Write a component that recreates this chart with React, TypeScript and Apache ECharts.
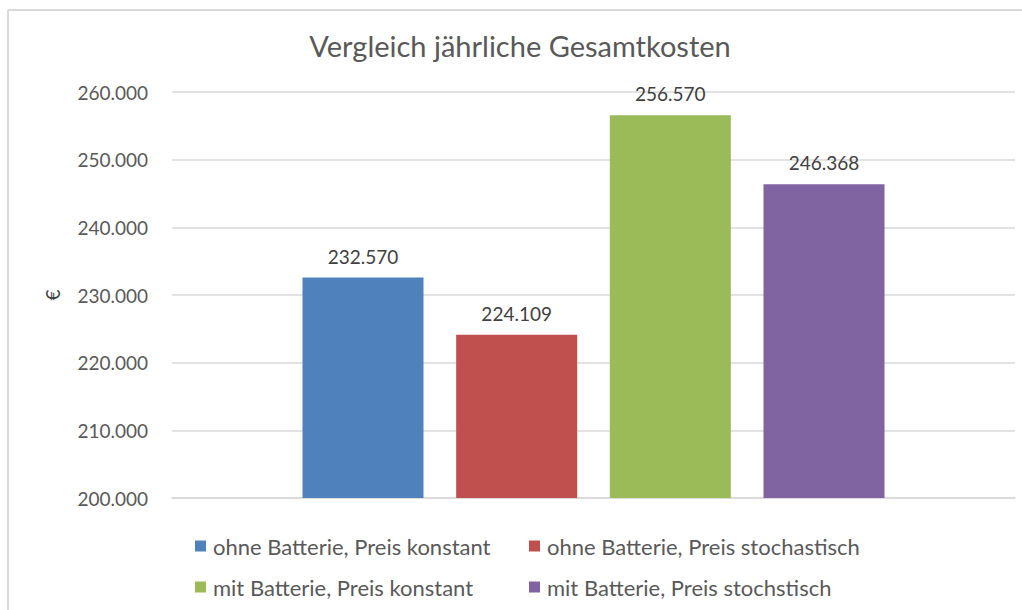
import React, { useEffect, useRef } from "react";
import * as echarts from "echarts";

const categories = ["Gesamtkosten"];
const seriesNames = [
  "ohne Batterie, Preis konstant",
  "ohne Batterie, Preis stochastisch",
  "mit Batterie, Preis konstant",
  "mit Batterie, Preis stochstisch",
];
const seriesValues = [232570, 224109, 256570, 246368];
const seriesColors = ["#4F81BD", "#C0504D", "#9BBB59", "#8064A2"];
const yMin = 200000;
const yMax = 260000;
const yInterval = 10000;

const FONT = "Lato, 'Noto Sans', sans-serif";

function fmt(v: number): string {
  return Math.round(v).toString().replace(/\B(?=(\d{3})+(?!\d))/g, ".");
}

export default function App() {
  const ref = useRef<HTMLDivElement>(null);
  useEffect(() => {
    if (!ref.current) return;
    const chart = echarts.init(ref.current, undefined, { renderer: "svg" });
    const series = seriesNames.map((name, i) => ({
      name,
      type: "bar",
      data: [seriesValues[i]],
      barWidth: 121,
      barGap: "27%",
      itemStyle: { color: seriesColors[i] },
      label: {
        show: true,
        position: "top",
        distance: 12,
        formatter: (p: any) => fmt(p.value),
        fontFamily: FONT,
        fontSize: 19,
        color: "#404040",
      },
    }));
    const legendText = {
      fontFamily: FONT,
      fontSize: 22,
      lineHeight: 22,
      height: 22,
      color: "#595959",
      padding: [0, 0, 0, 2],
    };
    chart.setOption({
      animation: false,
      backgroundColor: "#ffffff",
      textStyle: { fontFamily: FONT },
      title: {
        text: "Vergleich jährliche Gesamtkosten",
        left: 520,
        textAlign: "center",
        top: 31,
        padding: 0,
        textStyle: { fontFamily: FONT, fontSize: 29, fontWeight: "normal", color: "#595959" },
      },
      graphic: [
        { type: "line", shape: { x1: 8, y1: 10, x2: 1022, y2: 10 }, style: { stroke: "#D9D9D9", lineWidth: 2 } },
        { type: "line", shape: { x1: 8, y1: 10, x2: 8, y2: 610 }, style: { stroke: "#D9D9D9", lineWidth: 2 } },
      ],
      legend: [
        {
          data: [seriesNames[0], seriesNames[2]],
          orient: "vertical",
          left: 195,
          top: 535,
          itemWidth: 11,
          itemHeight: 11,
          itemGap: 19,
          padding: 0,
          icon: "rect",
          textStyle: legendText,
        },
        {
          data: [seriesNames[1], seriesNames[3]],
          orient: "vertical",
          left: 529,
          top: 535,
          itemWidth: 11,
          itemHeight: 11,
          itemGap: 19,
          padding: 0,
          icon: "rect",
          textStyle: legendText,
        },
      ],
      grid: { left: 172, right: 7, top: 92, bottom: 112, containLabel: false },
      xAxis: {
        type: "category",
        data: categories,
        axisLine: { show: true, lineStyle: { color: "#D9D9D9", width: 1.5 } },
        axisTick: { show: false },
        axisLabel: { show: false },
      },
      yAxis: {
        type: "value",
        min: yMin,
        max: yMax,
        interval: yInterval,
        name: "€",
        nameLocation: "middle",
        nameRotate: 90,
        nameGap: 110,
        nameTextStyle: { fontFamily: FONT, fontSize: 19, color: "#404040" },
        axisLine: { show: false },
        axisTick: { show: false },
        axisLabel: {
          margin: 24,
          fontFamily: FONT,
          fontSize: 19,
          color: "#595959",
          formatter: (v: number) => fmt(v),
        },
        splitLine: { lineStyle: { color: "#D9D9D9", width: 1.5 } },
      },
      series,
    });
    return () => chart.dispose();
  }, []);
  return (
    <div
      ref={ref}
      style={{ position: "fixed", left: 0, top: 0, width: 1022, height: 610 }}
    />
  );
}
